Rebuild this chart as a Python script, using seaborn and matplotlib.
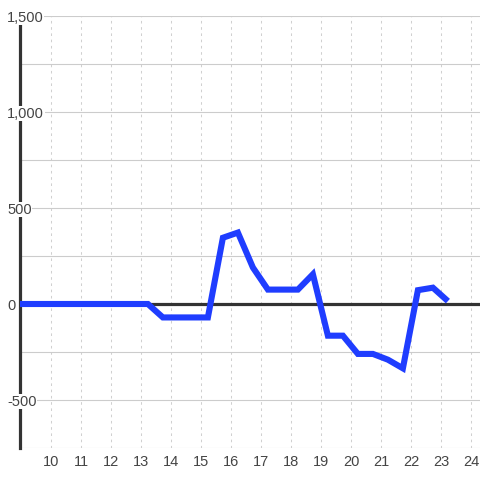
import numpy as np
import pandas as pd
import matplotlib
matplotlib.use("Agg")
import matplotlib.pyplot as plt
import seaborn as sns

# half-hour samples (hour of day) and net values
hours = [8.73, 9.23, 9.73, 10.23, 10.73, 11.23, 11.73, 12.23, 12.73, 13.23,
         13.73, 14.23, 14.73, 15.23, 15.73, 16.23, 16.73, 17.23, 17.73, 18.23,
         18.73, 19.23, 19.73, 20.23, 20.73, 21.23, 21.73, 22.23, 22.73, 23.23]
values = [0, 0, 0, 0, 0, 0, 0, 0, 0, 0,
          -70, -70, -70, -70, 345, 372, 190, 75, 75, 75,
          155, -165, -165, -260, -260, -290, -335, 72, 85, 15]

x_ticks = list(range(10, 25))
y_label_ticks = [-500, 0, 500, 1000, 1500]
y_grid = [-750, -500, -250, 0, 250, 500, 750, 1000, 1250, 1500]


def make_plot():
    sns.set_style("white")
    plt.rcParams["font.family"] = ["Liberation Sans", "DejaVu Sans"]

    fig = plt.figure(figsize=(4.8, 4.8), dpi=100)
    ax = fig.add_axes([20 / 480, 32 / 480, 460 / 480, 432 / 480])

    df = pd.DataFrame({"hour": hours, "value": values})
    sns.lineplot(data=df, x="hour", y="value", ax=ax, color="#1f3dff",
                 linewidth=4.4, zorder=5, solid_capstyle="butt",
                 solid_joinstyle="miter")

    ax.set_xlim(8.967, 24.3)
    ax.set_ylim(-750, 1500)

    # grid
    ax.set_yticks(y_grid)
    ax.set_yticklabels([])
    ax.set_xticks(x_ticks)
    ax.set_xticklabels([str(t) for t in x_ticks])
    ax.grid(axis="y", color="#cccccc", linewidth=0.8, linestyle="-")
    ax.grid(axis="x", color="#d0d0d0", linewidth=0.75, linestyle=(0, (2.5, 3.5)))
    ax.set_axisbelow(True)

    ax.axhline(0, color="#333333", linewidth=2.3, zorder=4)

    for s in ["top", "right", "bottom"]:
        ax.spines[s].set_visible(False)
    ax.spines["left"].set_color("#333333")
    ax.spines["left"].set_linewidth(2.3)
    ax.spines["left"].set_zorder(3)

    ax.tick_params(axis="both", length=0)
    ax.tick_params(axis="x", pad=5, labelsize=10.5, labelcolor="#444444")

    for v in y_label_ticks:
        ax.text(-13 / 460, v, f"{v:,}", transform=ax.get_yaxis_transform(),
                ha="left", va="center_baseline", fontsize=10.5, color="#444444",
                zorder=6, clip_on=False,
                bbox=dict(facecolor="white", edgecolor="none", pad=0.5))

    ax.set_xlabel("")
    ax.set_ylabel("")
    return fig


fig = make_plot()
fig.savefig("out.png", dpi=100)
